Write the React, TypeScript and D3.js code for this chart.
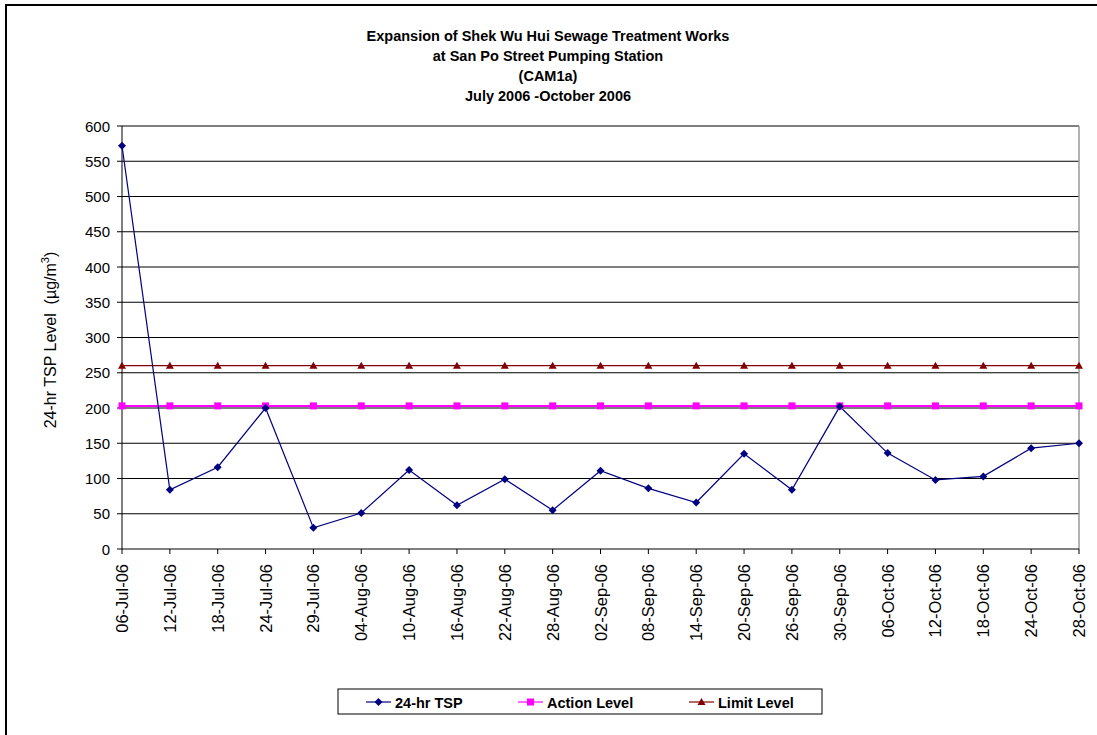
import React from "react";
import * as d3 from "d3";

const dates = ["06-Jul-06","12-Jul-06","18-Jul-06","24-Jul-06","29-Jul-06","04-Aug-06","10-Aug-06","16-Aug-06","22-Aug-06","28-Aug-06","02-Sep-06","08-Sep-06","14-Sep-06","20-Sep-06","26-Sep-06","30-Sep-06","06-Oct-06","12-Oct-06","18-Oct-06","24-Oct-06","28-Oct-06"];
const tsp = [572,84,116,200,30,51,112,62,99,55,111,86,66,135,84,202,136,98,103,143,150];
const actionLevel = dates.map(() => 203);
const limitLevel = dates.map(() => 260);
const yTicks = [0,50,100,150,200,250,300,350,400,450,500,550,600];
const titleLines = ["Expansion of Shek Wu Hui Sewage Treatment Works","at San Po Street Pumping Station","(CAM1a)","July 2006 -October 2006"];

const W = 1097, H = 735;
const left = 122, right = 1079, top = 126, bottom = 549;
const font = "Liberation Sans, Arial, sans-serif";

export default function App() {
  const x = d3.scalePoint<string>().domain(dates).range([left, right]);
  const y = d3.scaleLinear().domain([0, 600]).range([bottom, top]);
  const line = d3.line<number>().x((_, i) => x(dates[i])!).y((d) => y(d));

  const diamond = (cx: number, cy: number) => `M${cx},${cy - 4}L${cx + 4},${cy}L${cx},${cy + 4}L${cx - 4},${cy}Z`;
  const tri = (cx: number, cy: number) => `M${cx},${cy - 4}L${cx + 4},${cy + 3}L${cx - 4},${cy + 3}Z`;

  const legendY = 702;
  const legendItems = [
    { label: "24-hr TSP", color: "#000080", x0: 366, kind: "d" },
    { label: "Action Level", color: "#FF00FF", x0: 518, kind: "s" },
    { label: "Limit Level", color: "#800000", x0: 689, kind: "t" },
  ];

  return (
    <svg width={W} height={H} style={{ position: "absolute", left: 0, top: 0, background: "#fff" }} fontFamily={font}>
      <rect x={0} y={0} width={W} height={H} fill="#fff" />
      <rect x={6} y={5} width={W + 20} height={H + 20} fill="none" stroke="#000" strokeWidth={2} />
      {titleLines.map((t, i) => (
        <text key={i} x={548} y={41 + i * 20} textAnchor="middle" fontSize={14.5} fontWeight="bold">{t}</text>
      ))}
      {yTicks.map((t) => (
        <g key={t}>
          {t > 0 && <line x1={left} x2={right} y1={y(t)} y2={y(t)} stroke="#000" strokeWidth={1} />}
          <line x1={left - 5} x2={left} y1={y(t)} y2={y(t)} stroke="#000" />
          <text x={110} y={y(t) + 5.5} textAnchor="end" fontSize={15}>{t}</text>
        </g>
      ))}
      <line x1={right} x2={right} y1={top} y2={bottom} stroke="#999" strokeWidth={1.5} />
      <line x1={left} x2={left} y1={top} y2={bottom} stroke="#000" />
      <line x1={left} x2={right} y1={bottom} y2={bottom} stroke="#000" />
      {dates.map((d) => (
        <g key={d}>
          <line x1={x(d)!} x2={x(d)!} y1={bottom} y2={bottom + 5} stroke="#000" />
          <text transform={`translate(${x(d)! + 6},${564}) rotate(-90)`} textAnchor="end" fontSize={16.5}>{d}</text>
        </g>
      ))}
      <text transform={`translate(56,340) rotate(-90)`} textAnchor="middle" fontSize={16} xmlSpace="preserve" style={{ whiteSpace: "pre" }}>
        {"24-hr TSP Level  (µg/m"}<tspan dy={-7} fontSize={11}>3</tspan><tspan dy={7}>)</tspan>
      </text>
      <path d={line(limitLevel)!} fill="none" stroke="#800000" strokeWidth={1.2} />
      <path d={line(actionLevel)!} fill="none" stroke="#FF00FF" strokeWidth={2} />
      <path d={line(tsp)!} fill="none" stroke="#000080" strokeWidth={1.2} />
      {limitLevel.map((v, i) => <path key={"l" + i} d={tri(x(dates[i])!, y(v))} fill="#800000" />)}
      {actionLevel.map((v, i) => <rect key={"a" + i} x={x(dates[i])! - 3.5} y={y(v) - 3.5} width={7} height={7} fill="#FF00FF" />)}
      {tsp.map((v, i) => <path key={"t" + i} d={diamond(x(dates[i])!, y(v))} fill="#000080" />)}
      <rect x={338} y={689} width={484} height={25} fill="#fff" stroke="#000" strokeWidth={1} />
      {legendItems.map((it) => (
        <g key={it.label}>
          <line x1={it.x0} x2={it.x0 + 25} y1={legendY} y2={legendY} stroke={it.color} strokeWidth={1.2} />
          {it.kind === "d" && <path d={diamond(it.x0 + 12.5, legendY)} fill={it.color} />}
          {it.kind === "s" && <rect x={it.x0 + 9} y={legendY - 3.5} width={7} height={7} fill={it.color} />}
          {it.kind === "t" && <path d={tri(it.x0 + 12.5, legendY)} fill={it.color} />}
          <text x={it.x0 + 29} y={legendY + 5.5} fontSize={14.5} fontWeight="bold">{it.label}</text>
        </g>
      ))}
    </svg>
  );
}
